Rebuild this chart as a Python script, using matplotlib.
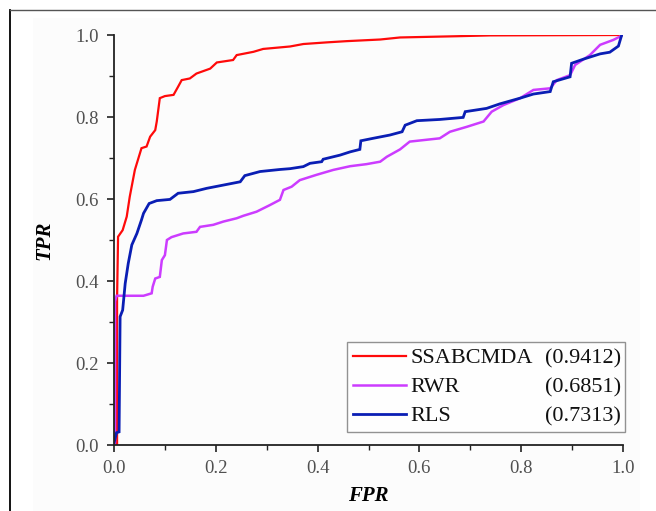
import numpy as np
import matplotlib
matplotlib.use("Agg")
import matplotlib.pyplot as plt
from matplotlib.lines import Line2D
from matplotlib.patches import Rectangle

# ROC curves
ssab_fpr = [0.0, 0.006, 0.006, 0.008, 0.017, 0.025, 0.031, 0.041, 0.054, 0.064, 0.071,
            0.081, 0.084, 0.090, 0.100, 0.117, 0.126, 0.133, 0.149, 0.162, 0.189, 0.202,
            0.234, 0.241, 0.274, 0.293, 0.346, 0.372, 0.418, 0.457, 0.523, 0.562, 0.673,
            0.739, 1.0]
ssab_tpr = [0.0, 0.0, 0.354, 0.508, 0.524, 0.557, 0.606, 0.671, 0.724, 0.728, 0.752,
            0.768, 0.789, 0.846, 0.851, 0.854, 0.874, 0.890, 0.894, 0.906, 0.918, 0.933,
            0.939, 0.951, 0.959, 0.966, 0.972, 0.978, 0.982, 0.985, 0.989, 0.994, 0.997,
            0.999, 1.0]

rwr_fpr = [0.0, 0.002, 0.002, 0.005, 0.058, 0.074, 0.076, 0.081, 0.090, 0.094, 0.100,
           0.104, 0.113, 0.136, 0.162, 0.169, 0.195, 0.215, 0.241, 0.254, 0.280, 0.306,
           0.326, 0.333, 0.349, 0.365, 0.398, 0.431, 0.464, 0.496, 0.523, 0.536, 0.562,
           0.581, 0.640, 0.660, 0.693, 0.726, 0.742, 0.765, 0.798, 0.824, 0.857, 0.870,
           0.896, 0.906, 0.935, 0.955, 0.981, 0.997]
rwr_tpr = [0.0, 0.005, 0.350, 0.364, 0.364, 0.370, 0.386, 0.406, 0.410, 0.451, 0.463,
           0.500, 0.507, 0.516, 0.520, 0.532, 0.537, 0.545, 0.553, 0.559, 0.569, 0.585,
           0.598, 0.622, 0.630, 0.646, 0.659, 0.671, 0.680, 0.685, 0.691, 0.703, 0.721,
           0.740, 0.748, 0.764, 0.776, 0.789, 0.813, 0.829, 0.846, 0.866, 0.870, 0.890,
           0.902, 0.927, 0.951, 0.976, 0.988, 0.998]

rls_fpr = [0.0, 0.005, 0.010, 0.012, 0.017, 0.022, 0.028, 0.035, 0.045, 0.054, 0.058,
           0.069, 0.084, 0.110, 0.126, 0.156, 0.182, 0.215, 0.248, 0.257, 0.287, 0.326,
           0.346, 0.372, 0.385, 0.408, 0.411, 0.444, 0.464, 0.483, 0.485, 0.509, 0.542,
           0.566, 0.572, 0.595, 0.640, 0.686, 0.690, 0.732, 0.758, 0.798, 0.824, 0.857,
           0.863, 0.896, 0.899, 0.922, 0.955, 0.974, 0.991, 0.997]
rls_tpr = [0.005, 0.030, 0.032, 0.313, 0.329, 0.394, 0.443, 0.488, 0.516, 0.549, 0.565,
           0.589, 0.596, 0.599, 0.614, 0.618, 0.626, 0.634, 0.642, 0.657, 0.667, 0.672,
           0.674, 0.679, 0.687, 0.691, 0.697, 0.707, 0.715, 0.721, 0.742, 0.748, 0.756,
           0.764, 0.780, 0.791, 0.794, 0.799, 0.813, 0.821, 0.832, 0.846, 0.856, 0.862,
           0.886, 0.898, 0.931, 0.941, 0.954, 0.958, 0.973, 0.998]

names = ["SSABCMDA", "RWR", "RLS"]
aucs = ["(0.9412)", "(0.6851)", "(0.7313)"]
colors = ["#ff0a0a", "#cc3cff", "#0a1eb4"]
widths = [1.6, 1.8, 2.0]

plt.rcParams['font.family'] = ['Liberation Serif', 'DejaVu Serif']

fig = plt.figure(figsize=(6.56, 5.11), dpi=100)
# faint panel and frame lines like the original screenshot
fig.patches.append(Rectangle((33 / 656, 0), (640 - 33) / 656, 1 - 18 / 511,
                             transform=fig.transFigure, facecolor='#fcfcfc',
                             edgecolor='none', zorder=-5))
fig.add_artist(Line2D([10 / 656, 10 / 656], [0, 1 - 10 / 511], color='black', lw=1.3,
                      transform=fig.transFigure))
fig.add_artist(Line2D([10 / 656, 1], [1 - 10 / 511, 1 - 10 / 511], color='#555555', lw=1.0,
                      transform=fig.transFigure))

ax = fig.add_axes([114 / 656, 1 - 445 / 511, 509 / 656, 410 / 511])
ax.patch.set_alpha(0)

for fpr, tpr, nm, c, w in zip([ssab_fpr, rwr_fpr, rls_fpr], [ssab_tpr, rwr_tpr, rls_tpr],
                              names, colors, widths):
    ax.plot(fpr, tpr, color=c, lw=w, label=nm, solid_joinstyle='miter')

ax.set_xlim(0, 1.0)
ax.set_ylim(0, 1.0)
ax.set_xticks(np.arange(0, 1.01, 0.2))
ax.set_yticks(np.arange(0, 1.01, 0.2))
ax.set_xticks(np.arange(0.1, 1.0, 0.2), minor=True)
ax.set_yticks(np.arange(0.1, 1.0, 0.2), minor=True)
ax.set_xticklabels([f"{v:.1f}" for v in np.arange(0, 1.01, 0.2)])
ax.set_yticklabels([f"{v:.1f}" for v in np.arange(0, 1.01, 0.2)])
for s in ['top', 'right']:
    ax.spines[s].set_visible(False)
for s in ['left', 'bottom']:
    ax.spines[s].set_linewidth(1.3)
    ax.spines[s].set_color('#222222')
ax.tick_params(which='major', direction='out', length=5, width=1.2, labelsize=13.5,
               labelcolor='#505050', color='#222222', pad=6)
ax.tick_params(which='minor', direction='out', length=3.5, width=1.0, color='#222222')

ax.set_xlabel('FPR', fontsize=15, fontweight='bold', fontstyle='italic')
ax.set_ylabel('TPR', fontsize=15, fontweight='bold', fontstyle='italic')
ax.xaxis.set_label_coords(0.5, -0.100)
ax.yaxis.set_label_coords(-0.116, 0.5)

leg = ax.legend(loc='lower left', bbox_to_anchor=(0.458, 0.032, 0.546, 0.22), mode='expand',
                fontsize=16, frameon=True, fancybox=False, edgecolor='#777777',
                handlelength=2.4, handletextpad=0.2, borderpad=0.25, labelspacing=0.38,
                borderaxespad=0)
leg.get_frame().set_linewidth(1.0)
for t in leg.get_texts():
    t.set_color('#111111')

fig.canvas.draw()
frame_bb = leg.get_frame().get_window_extent()
inv = fig.transFigure.inverted()
for t, a in zip(leg.get_texts(), aucs):
    bb = t.get_window_extent()
    x_r, y_c = inv.transform((frame_bb.x1 - 4, (bb.y0 + bb.y1) / 2))
    fig.text(x_r, y_c, a, ha='right', va='center', fontsize=16, color='#111111')

fig.savefig('out.png', dpi=100)
